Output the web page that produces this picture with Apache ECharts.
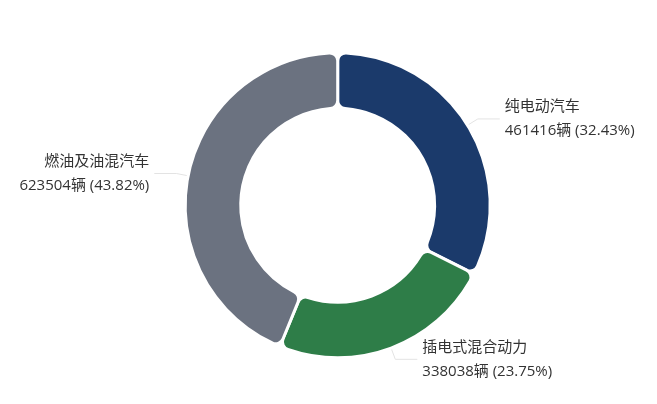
<!DOCTYPE html>
<html>
<head>
<meta charset="utf-8">
<style>
  html, body { margin: 0; padding: 0; background: #fff; }
  #main { width: 657px; height: 404px; }
</style>
<script src="https://cdn.jsdelivr.net/npm/echarts@6/dist/echarts.min.js"></script>
</head>
<body>
<div id="main"></div>
<script>
// 车辆类型及数量
let categories = ['纯电动汽车', '插电式混合动力', '燃油及油混汽车']
let values = [461416, 338038, 623504]
let colors = ['#1b3a6b', '#2e7d48', '#6b7280']

let series_data = []
for (let i = 0; i < categories.length; i++) {
  series_data.push({
    value: values[i],
    name: categories[i],
    itemStyle: { color: colors[i] }
  })
}

let chart = echarts.init(document.getElementById('main'))

let option = {
  animation: false,
  tooltip: {
    trigger: 'item'
  },
  series: [
    {
      name: '车辆类型',
      type: 'pie',
      radius: ['48%', '75.5%'],
      center: ['51.4%', '50.8%'],
      startAngle: 90,
      itemStyle: {
        borderRadius: 8,
        borderColor: '#fff',
        borderWidth: 3
      },
      label: {
        show: true,
        formatter: function (p) {
          return p.name + '\n' + p.value + '辆 (' + p.percent.toFixed(2) + '%)'
        },
        fontFamily: '"Open Sans", "Noto Sans CJK SC", sans-serif',
        fontSize: 15,
        lineHeight: 24,
        color: '#333'
      },
      labelLine: {
        show: true,
        length: 12,
        length2: 22,
        lineStyle: { color: '#e3e3e3', width: 1 }
      },
      data: series_data
    }
  ]
}

chart.setOption(option)
</script>
</body>
</html>
